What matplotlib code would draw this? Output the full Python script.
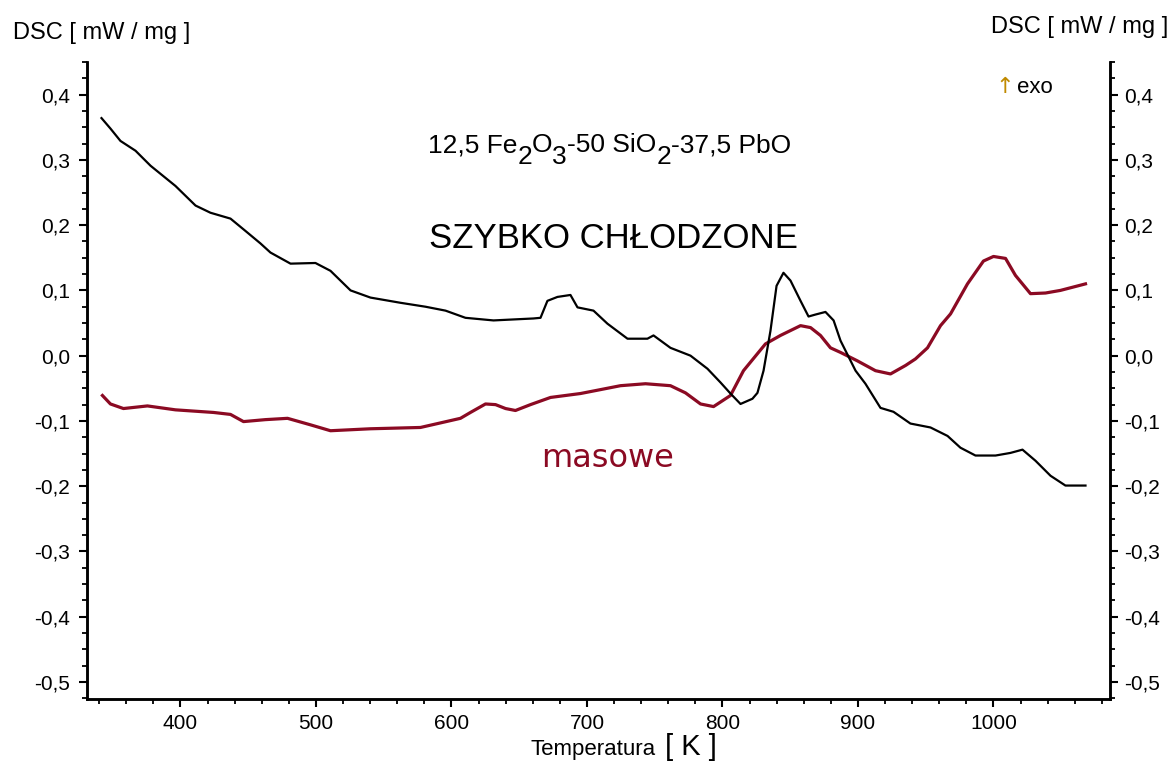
import numpy as np
import matplotlib
matplotlib.use("Agg")
import matplotlib.pyplot as plt
from matplotlib.ticker import MultipleLocator, FuncFormatter
from matplotlib.transforms import IdentityTransform

temp_black = [341.7, 348.3, 355.7, 366.8, 377.9, 396.3, 411.1, 422.1, 436.9, 448.0,
              459.0, 466.4, 481.2, 499.6, 510.7, 525.5, 540.2, 562.4, 580.8, 595.6,
              610.3, 631.0, 660.5, 665.7, 670.8, 678.2, 687.8, 693.0, 704.8, 715.1,
              729.9, 744.6, 749.1, 761.6, 776.4, 788.9, 798.5, 805.9, 813.3, 822.1,
              825.8, 830.3, 835.4, 839.9, 845.0, 850.2, 857.6, 863.5, 868.6, 876.0,
              882.0, 887.1, 898.2, 905.5, 916.6, 926.2, 938.7, 953.5, 966.1, 975.6,
              986.7, 1001.5, 1012.5, 1021.4, 1031.0, 1042.1, 1053.1, 1067.9]
dsc_black = [0.364, 0.348, 0.329, 0.314, 0.291, 0.260, 0.230, 0.219, 0.210, 0.191,
             0.172, 0.158, 0.141, 0.142, 0.130, 0.100, 0.089, 0.081, 0.075, 0.069,
             0.058, 0.054, 0.057, 0.058, 0.084, 0.090, 0.093, 0.074, 0.069, 0.049,
             0.026, 0.026, 0.031, 0.012, 0.000, -0.020, -0.041, -0.058, -0.074, -0.066,
             -0.057, -0.023, 0.038, 0.107, 0.127, 0.115, 0.084, 0.060, 0.063, 0.067,
             0.054, 0.023, -0.023, -0.043, -0.080, -0.086, -0.104, -0.110, -0.123, -0.141,
             -0.153, -0.153, -0.149, -0.144, -0.161, -0.184, -0.199, -0.199]

temp_red = [342.4, 348.3, 357.9, 375.6, 396.3, 424.4, 436.9, 446.5, 462.7, 479.0,
            496.0, 510.7, 540.2, 577.1, 591.9, 606.6, 614.0, 625.1, 632.5, 639.9,
            647.2, 658.3, 673.1, 695.2, 710.0, 724.7, 743.2, 761.6, 772.7, 783.8,
            793.4, 805.9, 815.5, 831.7, 842.8, 857.6, 865.0, 872.3, 879.7, 887.1,
            899.6, 912.9, 924.0, 935.1, 942.4, 951.3, 960.9, 968.3, 980.8, 992.6,
            1000.0, 1008.9, 1016.2, 1027.3, 1038.4, 1049.4, 1067.9]
dsc_red = [-0.061, -0.074, -0.081, -0.077, -0.083, -0.087, -0.090, -0.101, -0.098, -0.096,
           -0.106, -0.115, -0.112, -0.110, -0.103, -0.096, -0.087, -0.074, -0.075, -0.081,
           -0.084, -0.075, -0.064, -0.058, -0.052, -0.046, -0.043, -0.046, -0.057, -0.074,
           -0.078, -0.061, -0.023, 0.018, 0.031, 0.046, 0.043, 0.031, 0.012, 0.005,
           -0.008, -0.023, -0.028, -0.015, -0.005, 0.012, 0.046, 0.064, 0.110, 0.145,
           0.152, 0.149, 0.123, 0.095, 0.096, 0.100, 0.110]

# wzor probki: (tekst, czy indeks dolny)
formula_parts = [("12,5 Fe", False), ("2", True), ("O", False), ("3", True),
                 ("-50 SiO", False), ("2", True), ("-37,5 PbO", False)]

RED = "#8b0a23"
FONT = "Liberation Sans"

plt.rcParams["font.family"] = [FONT, "DejaVu Sans"]


def fmt(v, pos):
    s = f"{v:.1f}".replace(".", ",")
    return "0,0" if s == "-0,0" else s


fig = plt.figure(figsize=(11.74, 7.65), dpi=100, facecolor="white")
ax = fig.add_axes([0.0741, 0.0863, 0.8714, 0.8327])
ax2 = ax.twinx()

ax.plot(temp_black, dsc_black, color="black", lw=1.6, zorder=3)
ax.plot(temp_red, dsc_red, color=RED, lw=2.3, zorder=2)

ax.set_xlim(331, 1086)
for a in (ax, ax2):
    a.set_ylim(-0.526, 0.45)
    a.yaxis.set_major_locator(MultipleLocator(0.1))
    a.yaxis.set_minor_locator(MultipleLocator(0.025))
    a.yaxis.set_major_formatter(FuncFormatter(fmt))
    a.spines["top"].set_visible(False)
    for sp in a.spines.values():
        sp.set_linewidth(1.8)
    a.tick_params(axis="both", which="major", direction="out", length=6, width=1.5,
                  labelsize=15)
    a.tick_params(axis="both", which="minor", direction="out", length=3.5, width=1.3)

ax.xaxis.set_major_locator(MultipleLocator(100))
ax.xaxis.set_minor_locator(MultipleLocator(20))
ax.tick_params(axis="x", pad=5)
ax.tick_params(axis="y", pad=6)
ax2.tick_params(axis="y", pad=4)

# Opisy osi
fig.text(0.011, 0.949, "DSC [ mW / mg ]", fontsize=17, ha="left", va="baseline")
fig.text(0.995, 0.957, "DSC [ mW / mg ]", fontsize=17, ha="right", va="baseline")
fig.text(0.452, 0.013, "Temperatura", fontsize=16, ha="left", va="baseline")
fig.text(0.5665, 0.013, "[ K ]", fontsize=21, ha="left", va="baseline")

# Adnotacje
fig.text(0.8475, 0.879, "\u2191", fontsize=16, family="DejaVu Sans", color="#c08a00",
         ha="left", va="baseline")
fig.text(0.866, 0.879, "exo", fontsize=16, ha="left", va="baseline")
fig.text(0.5225, 0.676, "SZYBKO CH\u0141ODZONE", fontsize=25, ha="center", va="baseline")
fig.text(0.5175, 0.39, "masowe", fontsize=23, color=RED, family="DejaVu Sans",
         ha="center", va="baseline")

# wzor z duzymi indeksami (w pikselach)
renderer = fig.canvas.get_renderer()
texts = []
for s, sub in formula_parts:
    t = fig.text(0, 0, s, fontsize=19, ha="left", va="baseline",
                 transform=IdentityTransform())
    texts.append((t, sub, t.get_window_extent(renderer).width))
total = sum(w for _, _, w in texts)
x = 609.5 - total / 2
base = 765 - 152
for t, sub, w in texts:
    t.set_position((x, base - 12 if sub else base))
    x += w

plt.savefig("out.png", dpi=100, facecolor="white")
